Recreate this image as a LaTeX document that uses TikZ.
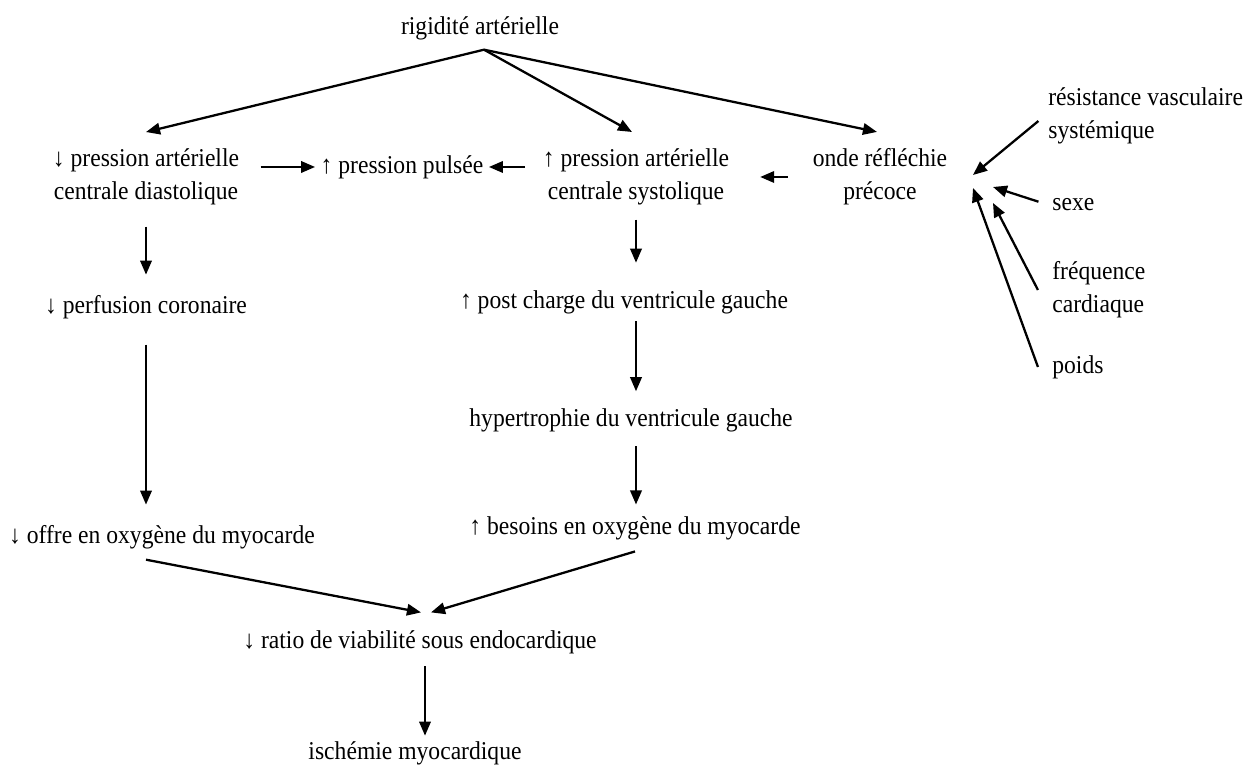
\documentclass[tikz,border=0pt]{standalone}
\usepackage{fontspec}
\setmainfont{Liberation Serif}[FakeStretch=0.92]
\usetikzlibrary{arrows.meta, positioning, calc}

\begin{document}
\begin{tikzpicture}[
    >=Triangle,
    txt/.style={align=center, inner sep=2pt, font=\fontsize{14.6}{18.7}\selectfont},
    txtl/.style={txt, align=left, anchor=west},
    arrow/.style={-{Triangle[length=8pt, width=6.5pt]}, line width=1.3pt, draw=black}
]
\useasboundingbox (0,0) rectangle (25.08,15.34);

% =============================================================
% Top: arterial stiffness and its direct effects
% =============================================================
\node[txt] (rigid) at (9.60, 14.78) {rigidité artérielle};
\node[txt] (diast) at (2.92, 11.80) {↓ pression artérielle\\centrale diastolique};
\node[txt] (pulse) at (8.04, 12.00) {↑ pression pulsée};
\node[txt] (syst) at (12.72, 11.80) {↑ pression artérielle\\centrale systolique};
\node[txt] (onde) at (17.60, 11.80) {onde réfléchie\\précoce};

\draw[arrow] ([xshift=0.08cm, yshift=-3.5pt]rigid.south) -- ([yshift=7.4pt]diast.north);
\draw[arrow] ([xshift=0.08cm, yshift=-3.5pt]rigid.south) -- ([xshift=-0.08cm, yshift=7.4pt]syst.north);
\draw[arrow] ([xshift=0.08cm, yshift=-3.5pt]rigid.south) -- ([xshift=-0.06cm, yshift=7.4pt]onde.north);

\draw[arrow, shorten <=10pt, shorten >=1pt] (diast.east |- pulse.west) -- (pulse.west);
\draw[arrow, shorten <=8pt, shorten >=1pt] (syst.west |- pulse.east) -- (pulse.east);
\draw[arrow, shorten <=12pt, shorten >=15.5pt] (onde.west) -- (syst.east);

% Factors acting on the reflected wave
% =============================================================
\node[txtl] (resist) at (20.89, 13.02) {résistance vasculaire\\systémique};
\node[txtl] (sexe) at (20.97, 11.24) {sexe};
\node[txtl] (freq) at (20.97, 9.54) {fréquence\\cardiaque};
\node[txtl] (poids) at (20.97, 8.00) {poids};

\coordinate (hubA) at (19.46, 11.84);
\coordinate (hubB) at (19.86, 11.60);
\coordinate (hubC) at (19.86, 11.28);
\coordinate (hubD) at (19.46, 11.58);

\draw[arrow, shorten <=4.5pt] (resist.west) -- (hubA);
\draw[arrow, shorten <=6pt] (sexe.west) -- (hubB);
\draw[arrow] ([xshift=-6pt]freq.west) -- (hubC);
\draw[arrow] ([xshift=-6pt]poids.west) -- (hubD);

% =============================================================
% Left branch: supply / right branch: demand
% =============================================================
\node[txt] (perf) at (2.92, 9.20) {↓ perfusion coronaire};
\node[txt] (offre) at (3.24, 4.60) {↓ offre en oxygène du myocarde};
\node[txt] (post) at (12.48, 9.30) {↑ post charge du ventricule gauche};
\node[txt] (hyper) at (12.62, 6.94) {hypertrophie du ventricule gauche};
\node[txt] (besoins) at (12.70, 4.78) {↑ besoins en oxygène du myocarde};

\draw[arrow, shorten <=10pt, shorten >=9.5pt] (diast.south) -- (diast.south |- perf.north);
\draw[arrow, shorten <=12.5pt, shorten >=9.5pt] (perf.south) -- (perf.south |- offre.north);
\draw[arrow, shorten <=6pt, shorten >=13.5pt] (syst.south) -- (syst.south |- post.north);
\draw[arrow, shorten <=2pt, shorten >=7.5pt] (post.south -| syst.south) -- (hyper.north -| syst.south);
\draw[arrow, shorten <=6pt, shorten >=4.5pt] (hyper.south -| syst.south) -- (besoins.north -| syst.south);

% =============================================================
% Bottom: subendocardial viability and ischaemia
% =============================================================
\node[txt] (ratio) at (8.40, 2.50) {↓ ratio de viabilité sous endocardique};
\node[txt] (isch) at (8.30, 0.28) {ischémie myocardique};

\draw[arrow] ([xshift=-0.32cm, yshift=-4pt]offre.south) -- ([xshift=0.02cm, yshift=8pt]ratio.north);
\draw[arrow] ([yshift=-4.5pt]besoins.south) -- ([xshift=0.22cm, yshift=8pt]ratio.north);
\draw[arrow, shorten <=5pt, shorten >=1pt] ([xshift=0.1cm]ratio.south) -- ([xshift=0.1cm]ratio.south |- isch.north);

\end{tikzpicture}
\end{document}
